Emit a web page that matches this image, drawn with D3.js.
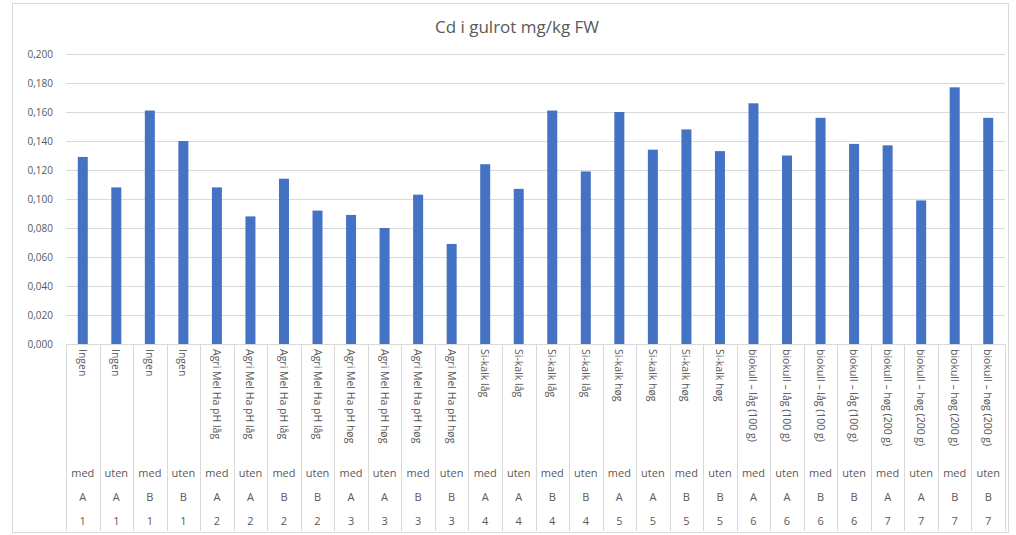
<!DOCTYPE html>
<html>
<head>
<meta charset="utf-8">
<script src="https://cdn.jsdelivr.net/npm/d3@7"></script>
<style>
  html, body { margin: 0; padding: 0; background: #fff; }
  svg { display: block; font-family: "Open Sans", Lato, sans-serif; }
</style>
</head>
<body>
<svg id="chart" width="1016" height="535"></svg>
<script>
// Cd content in carrots, mg/kg fresh weight
const treatments = [
  "Ingen", "Ingen", "Ingen", "Ingen",
  "Agri Mel Ha pH låg", "Agri Mel Ha pH låg", "Agri Mel Ha pH låg", "Agri Mel Ha pH låg",
  "Agri Mel Ha pH høg", "Agri Mel Ha pH høg", "Agri Mel Ha pH høg", "Agri Mel Ha pH høg",
  "Si-kalk låg", "Si-kalk låg", "Si-kalk låg", "Si-kalk låg",
  "Si-kalk høg", "Si-kalk høg", "Si-kalk høg", "Si-kalk høg",
  "biokull – låg (100 g)", "biokull – låg (100 g)", "biokull – låg (100 g)", "biokull – låg (100 g)",
  "biokull – høg (200 g)", "biokull – høg (200 g)", "biokull – høg (200 g)", "biokull – høg (200 g)"
];
const medUten = [
  "med", "uten", "med", "uten", "med", "uten", "med", "uten",
  "med", "uten", "med", "uten", "med", "uten", "med", "uten",
  "med", "uten", "med", "uten", "med", "uten", "med", "uten",
  "med", "uten", "med", "uten"
];
const blocks = [
  "A", "A", "B", "B", "A", "A", "B", "B", "A", "A", "B", "B", "A", "A",
  "B", "B", "A", "A", "B", "B", "A", "A", "B", "B", "A", "A", "B", "B"
];
const groups = [
  "1", "1", "1", "1", "2", "2", "2", "2", "3", "3", "3", "3", "4", "4",
  "4", "4", "5", "5", "5", "5", "6", "6", "6", "6", "7", "7", "7", "7"
];
const cdValues = [
  0.129, 0.108, 0.161, 0.140, 0.108, 0.088, 0.114, 0.092,
  0.089, 0.080, 0.103, 0.069, 0.124, 0.107, 0.161, 0.119,
  0.160, 0.134, 0.148, 0.133, 0.166, 0.130, 0.156, 0.138,
  0.137, 0.099, 0.177, 0.156
];
const yTicks = [0, 0.02, 0.04, 0.06, 0.08, 0.10, 0.12, 0.14, 0.16, 0.18, 0.20];

const svg = d3.select("#chart");
const textColor = "#595959";
const gridColor = "#d9d9d9";
const barColor = "#4472c4";

const plot = { left: 66, right: 1005, top: 54, bottom: 344 };
const axisBottom = 531;

// chart frame
svg.append("rect")
  .attr("x", 12.5).attr("y", 3.5)
  .attr("width", 996).attr("height", 529)
  .attr("fill", "none").attr("stroke", "#d9d9d9");

svg.append("text")
  .attr("x", 517).attr("y", 33)
  .attr("text-anchor", "middle")
  .attr("font-size", 17)
  .attr("fill", textColor)
  .text("Cd i gulrot mg/kg FW");

const idx = d3.range(cdValues.length);
const x = d3.scaleBand().domain(idx).range([plot.left, plot.right]).paddingInner(0).paddingOuter(0);
const y = d3.scaleLinear().domain([0, 0.2]).range([plot.bottom, plot.top]);

const locale = d3.formatLocale({ decimal: ",", thousands: " ", grouping: [3], currency: ["", " kr"] });
const fmt = locale.format(".3f");

// horizontal gridlines and value axis labels
const yAxis = d3.axisLeft(y).tickValues(yTicks).tickFormat(fmt)
  .tickSize(-(plot.right - plot.left)).tickPadding(13);
const gy = svg.append("g").attr("transform", `translate(${plot.left},0)`).call(yAxis);
gy.select(".domain").remove();
gy.selectAll(".tick line").attr("stroke", gridColor);
gy.selectAll(".tick text").attr("fill", textColor).attr("font-size", 10).attr("font-family", "'Open Sans', sans-serif");

// bars
svg.append("g").selectAll("rect").data(idx).join("rect")
  .attr("x", i => x(i) + x.bandwidth() / 2 - 5)
  .attr("width", 10)
  .attr("y", i => y(cdValues[i]))
  .attr("height", i => y(0) - y(cdValues[i]))
  .attr("fill", barColor);

// category axis line and separators
svg.append("line")
  .attr("x1", plot.left).attr("x2", plot.right)
  .attr("y1", plot.bottom + 0.5).attr("y2", plot.bottom + 0.5)
  .attr("stroke", gridColor);
svg.append("g").selectAll("line").data(d3.range(cdValues.length + 1)).join("line")
  .attr("x1", k => Math.round(plot.left + k * x.step()) + 0.5)
  .attr("x2", k => Math.round(plot.left + k * x.step()) + 0.5)
  .attr("y1", plot.bottom).attr("y2", axisBottom)
  .attr("stroke", gridColor);

const cx = i => x(i) + x.bandwidth() / 2;

// treatment labels, rotated
svg.append("g").selectAll("text").data(idx).join("text")
  .attr("transform", i => `translate(${cx(i) - 4},${plot.bottom + 5}) rotate(90)`)
  .attr("text-anchor", "start")
  .attr("font-size", 10.5)
  .attr("fill", textColor)
  .text(i => treatments[i]);

const levels = [
  { labels: medUten, yPos: 477 },
  { labels: blocks, yPos: 501 },
  { labels: groups, yPos: 525 }
];
levels.forEach(level => {
  svg.append("g").selectAll("text").data(idx).join("text")
    .attr("x", cx)
    .attr("y", level.yPos)
    .attr("text-anchor", "middle")
    .attr("font-size", 11)
    .attr("fill", textColor)
    .text(i => level.labels[i]);
});
</script>
</body>
</html>
